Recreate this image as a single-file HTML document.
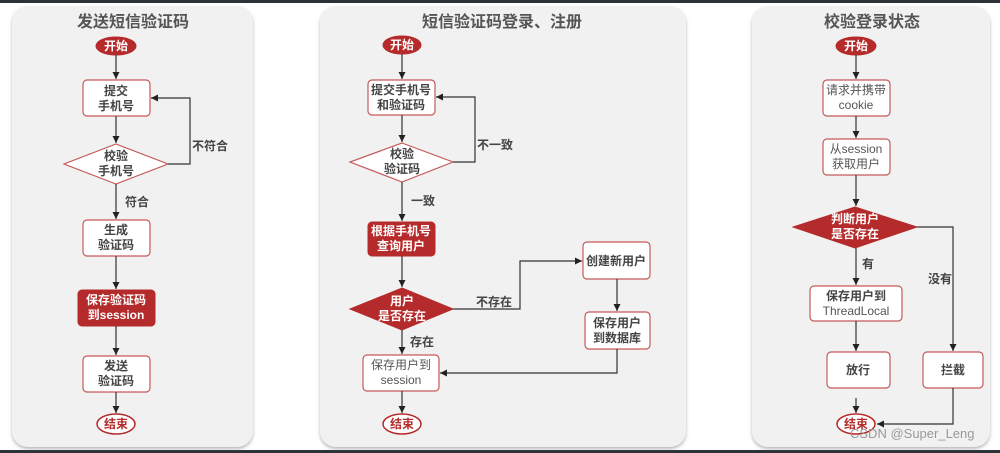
<!DOCTYPE html>
<html><head><meta charset="utf-8"><style>
html,body{margin:0;padding:0;background:#fff;}
svg{display:block;}
text{font-family:"Liberation Sans","Noto Sans CJK SC",sans-serif;}
.t{font-size:16px;font-weight:bold;fill:#555;text-anchor:middle;}
.b{font-size:12px;font-weight:bold;fill:#444;text-anchor:middle;}
.n{font-size:12px;fill:#555;text-anchor:middle;}
.w{font-size:12px;font-weight:bold;fill:#fff;text-anchor:middle;}
.l{font-size:12px;font-weight:bold;fill:#444;}
.bx{fill:#fff;stroke:#c65a5a;stroke-width:1.2;}
.rd{fill:#b52a2a;stroke:#b52a2a;}
.ln{stroke:#333;stroke-width:1.2;fill:none;marker-end:url(#a);}
</style></head><body>
<svg width="1000" height="453" viewBox="0 0 1000 453">
<defs>
<marker id="a" markerWidth="8" markerHeight="8" refX="7" refY="4" orient="auto" markerUnits="userSpaceOnUse"><path d="M0,0.5 L7,4 L0,7.5 Z" fill="#222"/></marker>
<filter id="s" x="-5%" y="-5%" width="110%" height="110%"><feDropShadow dx="0" dy="2" stdDeviation="1.5" flood-color="#888" flood-opacity="0.6"/></filter>
</defs>
<rect x="0" y="0" width="1000" height="3" fill="#2d3138"/>
<rect x="0" y="450" width="1000" height="3" fill="#2d3138"/>

<!-- Panel 1 -->
<rect x="12" y="6" width="241" height="441" rx="16" fill="#f1f1f1" filter="url(#s)"/>
<text class="t" x="133" y="27">发送短信验证码</text>
<ellipse cx="116" cy="46" rx="20" ry="9" class="rd"/>
<text class="w" x="116" y="50">开始</text>
<line class="ln" x1="116" y1="55" x2="116" y2="79"/>
<rect class="bx" x="83" y="80" width="67" height="36" rx="4"/>
<text class="b" x="116" y="95">提交</text><text class="b" x="116" y="110">手机号</text>
<line class="ln" x1="116" y1="116" x2="116" y2="143"/>
<polygon class="bx" points="116,144 168,164 116,184 64,164"/>
<text class="b" x="116" y="160">校验</text><text class="b" x="116" y="175">手机号</text>
<polyline class="ln" points="168,164 190,164 190,98 151,98"/>
<text class="l" x="192" y="150">不符合</text>
<line class="ln" x1="116" y1="184" x2="116" y2="219"/>
<text class="l" x="125" y="206">符合</text>
<rect class="bx" x="83" y="220" width="67" height="36" rx="4"/>
<text class="b" x="116" y="234">生成</text><text class="b" x="116" y="249">验证码</text>
<line class="ln" x1="116" y1="256" x2="116" y2="289"/>
<rect class="rd" x="78" y="290" width="77" height="36" rx="4"/>
<text class="w" x="116" y="304">保存验证码</text><text class="w" x="116" y="319">到session</text>
<line class="ln" x1="116" y1="326" x2="116" y2="355"/>
<rect class="bx" x="83" y="356" width="67" height="36" rx="4"/>
<text class="b" x="116" y="370">发送</text><text class="b" x="116" y="385">验证码</text>
<line class="ln" x1="116" y1="392" x2="116" y2="413"/>
<ellipse cx="116" cy="424" rx="19" ry="10" fill="#fff" stroke="#b52a2a" stroke-width="1.5"/>
<text class="b" x="116" y="428" style="fill:#b52a2a">结束</text>

<!-- Panel 2 -->
<rect x="320" y="6" width="366" height="441" rx="16" fill="#f1f1f1" filter="url(#s)"/>
<text class="t" x="502" y="27">短信验证码登录、注册</text>
<ellipse cx="402" cy="45" rx="19" ry="9" class="rd"/>
<text class="w" x="402" y="49">开始</text>
<line class="ln" x1="402" y1="54" x2="402" y2="79"/>
<rect class="bx" x="368" y="80" width="67" height="35" rx="4"/>
<text class="b" x="401" y="94">提交手机号</text><text class="b" x="401" y="109">和验证码</text>
<line class="ln" x1="402" y1="115" x2="402" y2="142"/>
<polygon class="bx" points="402,143 453,162 402,182 350,162"/>
<text class="b" x="402" y="158">校验</text><text class="b" x="402" y="173">验证码</text>
<polyline class="ln" points="453,162 475,162 475,97 436,97"/>
<text class="l" x="477" y="149">不一致</text>
<line class="ln" x1="402" y1="182" x2="402" y2="221"/>
<text class="l" x="411" y="205">一致</text>
<rect class="rd" x="368" y="222" width="67" height="34" rx="4"/>
<text class="w" x="401" y="235">根据手机号</text><text class="w" x="401" y="250">查询用户</text>
<line class="ln" x1="402" y1="256" x2="402" y2="287"/>
<polygon class="rd" points="402,288 453,309 402,330 350,309"/>
<text class="w" x="402" y="305">用户</text><text class="w" x="402" y="320">是否存在</text>
<polyline class="ln" points="453,309 520,309 520,261 582,261"/>
<text class="l" x="476" y="306">不存在</text>
<rect class="bx" x="583" y="242" width="67" height="37" rx="4"/>
<text class="b" x="616" y="265">创建新用户</text>
<line class="ln" x1="617" y1="279" x2="617" y2="311"/>
<rect class="bx" x="585" y="312" width="65" height="37" rx="4"/>
<text class="b" x="617" y="327">保存用户</text><text class="b" x="617" y="342">到数据库</text>
<line class="ln" x1="402" y1="330" x2="402" y2="354"/>
<text class="l" x="410" y="346">存在</text>
<rect class="bx" x="363" y="355" width="76" height="36" rx="4"/>
<text class="n" x="401" y="369">保存用户到</text><text class="n" x="401" y="384">session</text>
<polyline class="ln" points="617,349 617,373 440,373"/>
<line class="ln" x1="402" y1="391" x2="402" y2="413"/>
<ellipse cx="402" cy="424" rx="19" ry="10" fill="#fff" stroke="#b52a2a" stroke-width="1.5"/>
<text class="b" x="402" y="428" style="fill:#b52a2a">结束</text>

<!-- Panel 3 -->
<rect x="752" y="6" width="238" height="441" rx="16" fill="#f1f1f1" filter="url(#s)"/>
<text class="t" x="872" y="27">校验登录状态</text>
<ellipse cx="856" cy="46" rx="20" ry="9" class="rd"/>
<text class="w" x="856" y="50">开始</text>
<line class="ln" x1="856" y1="55" x2="856" y2="79"/>
<rect class="bx" x="823" y="80" width="67" height="36" rx="4"/>
<text class="n" x="856" y="94">请求并携带</text><text class="n" x="856" y="109">cookie</text>
<line class="ln" x1="856" y1="116" x2="856" y2="138"/>
<rect class="bx" x="823" y="139" width="67" height="36" rx="4"/>
<text class="n" x="856" y="153">从session</text><text class="n" x="856" y="168">获取用户</text>
<line class="ln" x1="856" y1="175" x2="856" y2="206"/>
<polygon class="rd" points="855,207 917,227 855,248 793,227"/>
<text class="w" x="855" y="223">判断用户</text><text class="w" x="855" y="238">是否存在</text>
<line class="ln" x1="856" y1="248" x2="856" y2="285"/>
<text class="l" x="862" y="268">有</text>
<polyline class="ln" points="917,227 953,227 953,351"/>
<text class="l" x="928" y="283">没有</text>
<rect class="bx" x="810" y="286" width="92" height="35" rx="4"/>
<text class="b" x="856" y="300">保存用户到</text><text class="n" x="856" y="315" style="font-size:12px">ThreadLocal</text>
<line class="ln" x1="856" y1="321" x2="856" y2="351"/>
<rect class="bx" x="827" y="352" width="63" height="36" rx="4"/>
<text class="b" x="858" y="374">放行</text>
<rect class="bx" x="923" y="352" width="60" height="36" rx="4"/>
<text class="b" x="953" y="374">拦截</text>
<line class="ln" x1="856" y1="398" x2="856" y2="413"/>
<polyline class="ln" points="953,388 953,424 877,424"/>
<ellipse cx="856" cy="424" rx="19" ry="10" fill="#fff" stroke="#b52a2a" stroke-width="1.5"/>
<text class="b" x="856" y="428" style="fill:#b52a2a">结束</text>
<text x="850" y="438" style="font-size:13px;fill:#999;">CSDN @Super_Leng</text>
</svg>
</body></html>
